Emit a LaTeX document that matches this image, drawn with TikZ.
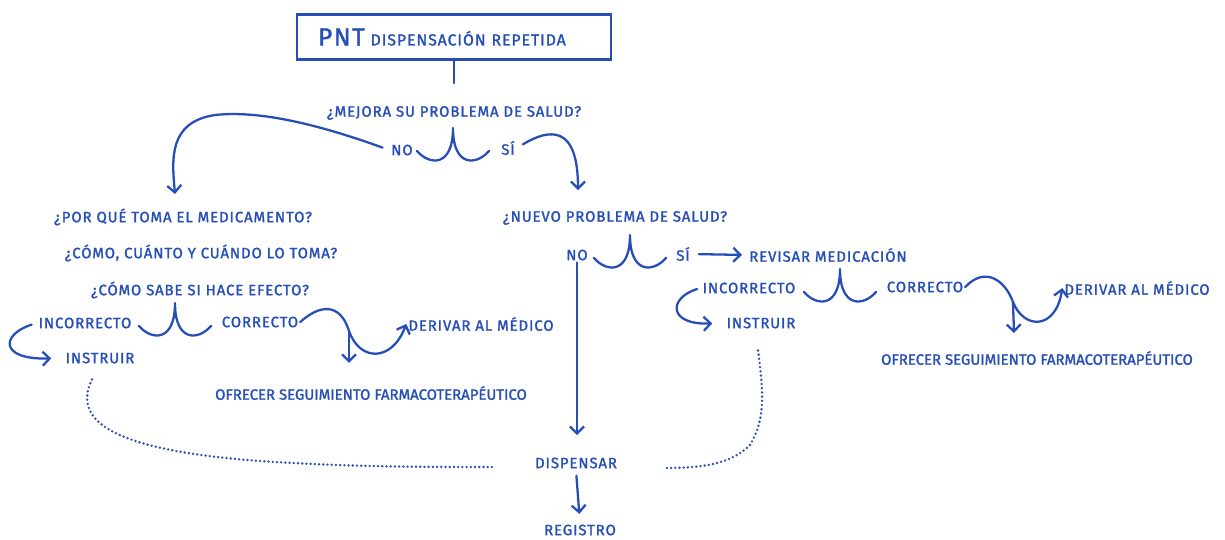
\documentclass[tikz,border=0pt]{standalone}
\usepackage{fontspec}
\usetikzlibrary{arrows.meta,calc}
\newfontfamily\hand[LetterSpace=6,FakeBold=1.5]{Fira Sans}
\newfontfamily\handtight[LetterSpace=0,FakeBold=1.5]{Fira Sans}
\definecolor{ink}{RGB}{38,78,182}
\tikzset{lbl/.style = {text=ink, inner sep=1pt, font=\hand\fontsize{8.5}{10}\selectfont},
         longlbl/.style = {lbl, font=\handtight\fontsize{8.5}{10}\selectfont},
         titlebox/.style = {draw=ink, line width=1.3pt, text=ink, text width=5.44cm, align=left, minimum height=0.9cm, inner xsep=0.42cm},
         line/.style = {draw=ink, line width=1.3pt, line cap=round, line join=round},
         arr/.style = {line, -{Straight Barb[length=4pt,width=8pt]}},
         dots/.style = {draw=ink, line width=1.5pt, line cap=round, dash pattern=on 0pt off 2.4pt}}
% branching mark under a question, peak at #1
\newcommand{\fork}[1]{\draw[line] ($(#1)+(-36,23)$) .. controls +(12,14) and +(0,40) .. (#1) .. controls +(0,40) and +(-12,14) .. ($(#1)+(36,23)$);}

\begin{document}
\begin{tikzpicture}[x=0.02cm,y=-0.02cm]
\useasboundingbox (0,0) rectangle (1225,539);

\node (title) [titlebox] at (454,37) {{\hand\fontsize{14}{16}\selectfont PNT} {\hand\fontsize{9}{11}\selectfont DISPENSACIÓN REPETIDA}};
\node (q1) [lbl] at (454,113) {¿MEJORA SU PROBLEMA DE SALUD?};
\node (no1) [lbl] at (402,150) {NO};
\node (si1) [lbl] at (508,148) {SÍ};
\draw [line] (title.south) -- (454,83);
\coordinate (f1) at (453,128);
\fork{f1}

% left branch
\node (pq) [lbl] at (183,217) {¿POR QUÉ TOMA EL MEDICAMENTO?};
\node (cc) [lbl] at (201,253) {¿CÓMO, CUÁNTO Y CUÁNDO LO TOMA?};
\node (ef) [lbl] at (200,290) {¿CÓMO SABE SI HACE EFECTO?};
\node (incL) [lbl] at (85,323) {INCORRECTO};
\node (corL) [lbl] at (260,322) {CORRECTO};
\node (instL) [lbl] at (100,358) {INSTRUIR};
\node (derL) [lbl] at (481,324) {DERIVAR AL MÉDICO};
\node (ofL) [longlbl] at (371,393) {OFRECER SEGUIMIENTO FARMACOTERAPÉUTICO};
\coordinate (f2) at (175,303);
\fork{f2}

% right branch
\node (q2) [lbl] at (615,218) {¿NUEVO PROBLEMA DE SALUD?};
\node (no2) [lbl] at (577,255) {NO};
\node (si2) [lbl] at (683,254) {SÍ};
\node (rev) [lbl] at (828,255) {REVISAR MEDICACIÓN};
\node (incR) [lbl] at (749,288) {INCORRECTO};
\node (corR) [lbl] at (925,287) {CORRECTO};
\node (instR) [lbl] at (761,323) {INSTRUIR};
\node (derR) [lbl] at (1137,288) {DERIVAR AL MÉDICO};
\node (ofR) [longlbl] at (1037,358) {OFRECER SEGUIMIENTO FARMACOTERAPÉUTICO};
\coordinate (f3) at (630,235);
\coordinate (f4) at (840,269);
\fork{f3}
\fork{f4}

\node (disp) [lbl] at (576,463) {DISPENSAR};
\node (reg) [lbl] at (580,530) {REGISTRO};

% Draw connections between nodes
\coordinate (pqtop) at (175,194);
\coordinate (q2top) at (578,190);
\draw [arr, shorten <=4pt] (no1.west) .. controls (320,125) and (260,110) .. (215,115) .. controls (168,122) and (172,160) .. (pqtop);
\draw [arr, shorten <=4pt] (si1.east) .. controls (550,128) and (578,125) .. (q2top);

\draw [arr, shorten <=3pt, shorten >=7pt] (incL.west) .. controls (0,335) and (0,360) .. (instL.west);
\coordinate (xL) at (349,331);
\draw [arr] (corL.east) .. controls (325,300) and (342,308) .. (xL) .. controls (360,362) and (392,362) .. (derL.west);
\draw [arr] (xL) -- ([yshift=12pt]ofL.north -| xL);

\draw [arr, shorten <=4pt, shorten >=3pt] (si2.east) -- (rev.west);
\draw [arr, shorten <=2pt, shorten >=7pt] (incR.west) .. controls (668,298) and (668,325) .. (instR.west);
\coordinate (xR) at (1013,302);
\draw [arr] (corR.east) .. controls (985,266) and (1005,280) .. (xR) .. controls (1024,330) and (1056,330) .. (derR.west);
\draw [arr] (xR) -- (1014,333);

\draw [arr] (no2.south) -- (no2.south |- 0,435);
\draw [arr, shorten <=3pt, shorten >=5pt] (disp.south) -- (reg.north);

% dotted returns to DISPENSAR
\draw [dots] (instL.south) ++(-8,14) .. controls (72,420) and (110,450) .. (260,461) .. controls (350,467) and (420,467) .. ($(disp.west)+(-40,4)$);
\draw [dots] (instR.south) ++(-3,20) .. controls (764,395) and (765,420) .. (750,445) .. controls (730,465) and (700,468) .. ($(disp.east)+(45,5)$);
\end{tikzpicture}
\end{document}
